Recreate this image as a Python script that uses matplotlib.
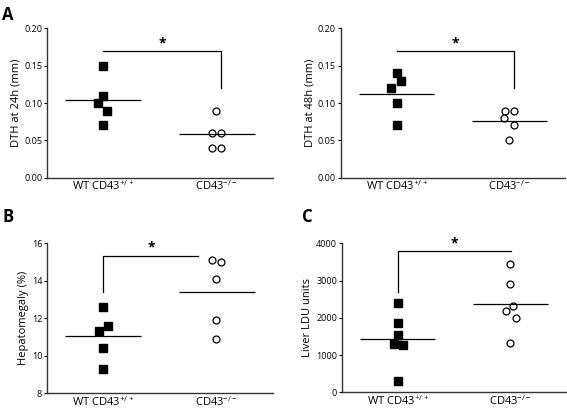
import numpy as np
import matplotlib
matplotlib.use("Agg")
import matplotlib.pyplot as plt

plt.rcParams['font.family'] = ['Open Sans', 'DejaVu Sans']
plt.rcParams['mathtext.fontset'] = 'custom'
plt.rcParams['mathtext.rm'] = 'Open Sans'

groups = ["WT CD43$^{\\mathregular{+/+}}$", "CD43$^{\\mathregular{-/-}}$"]

# panel A, 24h
dth24_wt = [0.15, 0.11, 0.10, 0.09, 0.07]
dth24_ko = [0.09, 0.06, 0.06, 0.04, 0.04]
# panel A, 48h
dth48_wt = [0.14, 0.13, 0.12, 0.10, 0.07]
dth48_ko = [0.09, 0.09, 0.08, 0.07, 0.05]
# panel B
hep_wt = [12.6, 11.6, 11.3, 10.4, 9.3]
hep_ko = [15.1, 15.0, 14.1, 11.9, 10.9]
# panel C
ldu_wt = [2400, 1850, 1550, 1300, 1270, 300]
ldu_ko = [3450, 2900, 2320, 2180, 2000, 1330]

# horizontal scatter of the points (x offsets)
jit_a24_wt = [0, 0, -0.045, 0.035, 0]
jit_a24_ko = [0, -0.04, 0.04, -0.04, 0.04]
jit_a48_wt = [0, 0.04, -0.05, 0, 0]
jit_a48_ko = [-0.04, 0.04, -0.05, 0.04, 0]
jit_b_wt = [0, 0.04, -0.04, 0, 0]
jit_b_ko = [-0.04, 0.04, 0, 0, 0]
jit_c_wt = [0, 0, 0, -0.04, 0.04, 0]
jit_c_ko = [0, 0, 0.02, -0.04, 0.05, 0]

fig = plt.figure(figsize=(5.67, 4.08), dpi=100)

def panel(rect, wt, ko, jw, jk, ylim, yticks, fmt, ylabel, bracket, star_y):
    ax = fig.add_axes(rect)
    ax.plot(1 + np.array(jw), wt, 's', color='black', markersize=5.5, clip_on=False)
    ax.plot(2 + np.array(jk), ko, 'o', mfc='white', mec='black', mew=0.9,
            markersize=5, clip_on=False)
    ax.hlines(np.mean(wt), 0.66, 1.33, color='black', lw=0.9)
    ax.hlines(np.mean(ko), 1.67, 2.34, color='black', lw=0.9)
    # significance bracket
    bx, by = zip(*bracket)
    ax.plot(bx, by, color='black', lw=0.9)
    top = max(by)
    xs = [x for x, y in bracket if y == top]
    ax.text(sum(xs) / 2, star_y, '*', ha='center', va='center',
            fontsize=10, fontweight='bold')
    ax.set_xlim(0.5, 2.5)
    ax.set_ylim(*ylim)
    ax.set_yticks(yticks)
    ax.set_yticklabels([fmt.format(v) for v in yticks], fontsize=6.5)
    ax.set_xticks([1, 2])
    ax.set_xticklabels(groups, fontsize=8)
    ax.tick_params(axis='x', length=0, pad=1)
    ax.tick_params(axis='y', length=2.5, width=0.8, pad=1)
    ax.set_ylabel(ylabel, fontsize=8, labelpad=2)
    for s in ['top', 'right']:
        ax.spines[s].set_visible(False)
    for s in ['left', 'bottom']:
        ax.spines[s].set_linewidth(1.0)
        ax.spines[s].set_color('#333333')
    return ax

panel([0.083, 0.564, 0.398, 0.367], dth24_wt, dth24_ko, jit_a24_wt, jit_a24_ko,
      (0, 0.20), [0, 0.05, 0.10, 0.15, 0.20], '{:.2f}', 'DTH at 24h (mm)',
      [(1, 0.17), (2.04, 0.17), (2.04, 0.12)], 0.18)
panel([0.601, 0.564, 0.396, 0.367], dth48_wt, dth48_ko, jit_a48_wt, jit_a48_ko,
      (0, 0.20), [0, 0.05, 0.10, 0.15, 0.20], '{:.2f}', 'DTH at 48h (mm)',
      [(1, 0.17), (2.04, 0.17), (2.04, 0.12)], 0.18)
panel([0.083, 0.036, 0.398, 0.368], hep_wt, hep_ko, jit_b_wt, jit_b_ko,
      (8, 16), [8, 10, 12, 14, 16], '{:.0f}', 'Hepatomegaly (%)',
      [(1, 13.4), (1, 15.3), (1.84, 15.3)], 15.75)
panel([0.603, 0.038, 0.396, 0.366], ldu_wt, ldu_ko, jit_c_wt, jit_c_ko,
      (0, 4000), [0, 1000, 2000, 3000, 4000], '{:.0f}', 'Liver LDU units',
      [(1, 2700), (1, 3800), (2.01, 3800)], 4000)

fig.text(0.004, 0.985, 'A', fontsize=12, fontweight='bold', va='top')
fig.text(0.004, 0.49, 'B', fontsize=12, fontweight='bold', va='top')
fig.text(0.533, 0.49, 'C', fontsize=12, fontweight='bold', va='top')

fig.savefig('out.png', dpi=100)
